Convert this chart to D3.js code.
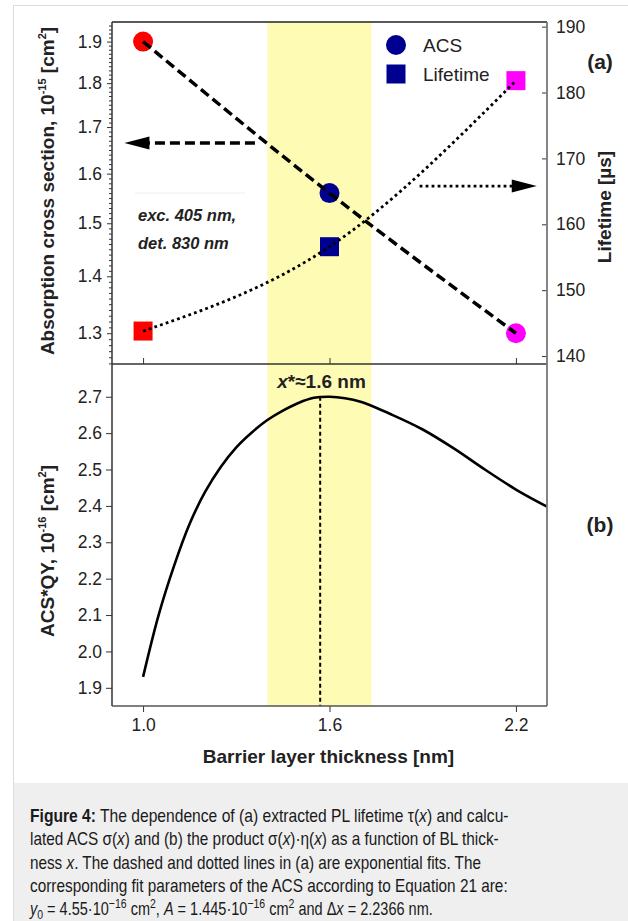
<!DOCTYPE html>
<html>
<head>
<meta charset="utf-8">
<script src="https://cdn.jsdelivr.net/npm/d3@7"></script>
<style>
  html, body { margin: 0; padding: 0; background: #fff; }
  svg { display: block; font-family: "Liberation Sans", Arial, sans-serif; }
  .tick text { font-size: 17.5px; fill: #222; }
  .tick line { stroke: #333; }
</style>
</head>
<body>
<div id="root"></div>
<script>
// panel (a): measured points
var thickness = [1.0, 1.6, 2.2];
var acs = [1.90, 1.56, 1.30];
var lifetime = [143.8, 156.6, 181.8];
var pointColors = ["#ff0000", "#000090", "#ff00ff"];

// panel (b): ACS*QY curve
var qyX = [1.0, 1.05, 1.1, 1.15, 1.2, 1.25, 1.3, 1.35, 1.4, 1.45, 1.5, 1.55, 1.6, 1.65, 1.7, 1.8, 1.9, 2.0, 2.1, 2.2, 2.3];
var qyVal = [1.93, 2.10, 2.236, 2.351, 2.439, 2.507, 2.561, 2.602, 2.636, 2.662, 2.683, 2.697, 2.700, 2.696, 2.686, 2.651, 2.610, 2.558, 2.500, 2.445, 2.398];
var peakX = 1.57, peakVal = 2.70;

// highlighted thickness range
var band = [1.4, 1.735];

// tick labels
var xTicks = [1.0, 1.6, 2.2];
var acsTicks = [1.3, 1.4, 1.5, 1.6, 1.7, 1.8, 1.9];
var lifeTicks = [140, 150, 160, 170, 180, 190];
var qyTicks = [1.9, 2.0, 2.1, 2.2, 2.3, 2.4, 2.5, 2.6, 2.7];

// arrows: [from x, to x, level]
var acsArrow = [1.36, 0.94, 1.665];
var lifeArrow = [1.89, 2.267, 165.8];

var W = 628, H = 921;
var pLeft = 112, pRight = 547, pTop = 22, pMid = 364, pBottom = 706;

var svg = d3.select("#root").append("svg")
    .attr("width", W)
    .attr("height", H);

// outer frame and caption box
svg.append("rect").attr("x", 13.5).attr("y", 5.5).attr("width", W).attr("height", H)
    .attr("fill", "#fff").attr("stroke", "#dcdcdc");
svg.append("rect").attr("x", 14).attr("y", 783).attr("width", W).attr("height", H - 783)
    .attr("fill", "#efefef");

var x = d3.scaleLinear().domain([0.9, 2.3]).range([pLeft, pRight]);
var yAcs = d3.scaleLog().domain([1.249, 1.949]).range([pMid, pTop]);
var yLife = d3.scaleLinear().domain([138.8, 190.7]).range([pMid, pTop]);
var yQ = d3.scaleLinear().domain([1.85, 2.79]).range([pBottom, pMid]);

// yellow band across both panels
svg.append("rect")
    .attr("x", x(band[0])).attr("y", pTop)
    .attr("width", x(band[1]) - x(band[0])).attr("height", pBottom - pTop)
    .attr("fill", "#fefbb4");

// faint box line behind the note
svg.append("line").attr("x1", 135).attr("x2", 245).attr("y1", 193).attr("y2", 193)
    .attr("stroke", "#eeeeee");

// ---- panel (a) ----
var fmt = d3.format(".1f");

// minor ticks of the log axis
var minor = d3.range(125, 195).map(function (d) { return d / 100; })
    .filter(function (d) { return acsTicks.indexOf(d) < 0 && d >= 1.25 && d <= 1.949; });
svg.append("g").attr("transform", "translate(" + pLeft + ",0)")
    .call(d3.axisLeft(yAcs).tickValues(minor).tickSize(3).tickFormat(""))
    .call(function (g) { g.select(".domain").remove(); });

svg.append("g").attr("transform", "translate(" + pLeft + ",0)")
    .call(d3.axisLeft(yAcs).tickValues(acsTicks).tickFormat(fmt).tickSize(5).tickPadding(5).tickSizeOuter(0))
    .call(function (g) { g.select(".domain").remove(); });

svg.append("g").attr("transform", "translate(" + pRight + ",0)")
    .call(d3.axisRight(yLife).tickValues(lifeTicks).tickSize(-5).tickPadding(9).tickSizeOuter(0))
    .call(function (g) { g.select(".domain").remove(); });

svg.append("g").attr("transform", "translate(0," + pMid + ")")
    .call(d3.axisTop(x).tickValues(xTicks).tickSize(6).tickFormat(""))
    .call(function (g) { g.select(".domain").remove(); });

// markers
svg.selectAll(".acs").data(thickness).enter().append("circle")
    .attr("cx", function (d) { return x(d); })
    .attr("cy", function (d, i) { return yAcs(acs[i]); })
    .attr("r", 10)
    .attr("fill", function (d, i) { return pointColors[i]; });

svg.selectAll(".life").data(thickness).enter().append("rect")
    .attr("x", function (d) { return x(d) - 9.5; })
    .attr("y", function (d, i) { return yLife(lifetime[i]) - 9.5; })
    .attr("width", 19).attr("height", 19)
    .attr("fill", function (d, i) { return pointColors[i]; });

// fits
var acsLine = d3.line().curve(d3.curveNatural)
    .x(function (d) { return x(d); })
    .y(function (d, i) { return yAcs(acs[i]); });
svg.append("path").attr("d", acsLine(thickness))
    .attr("fill", "none").attr("stroke", "#000").attr("stroke-width", 3.5)
    .attr("stroke-dasharray", "10,5");

var lifeLine = d3.line().curve(d3.curveNatural)
    .x(function (d) { return x(d); })
    .y(function (d, i) { return yLife(lifetime[i]); });
svg.append("path").attr("d", lifeLine(thickness))
    .attr("fill", "none").attr("stroke", "#000").attr("stroke-width", 2.8)
    .attr("stroke-dasharray", "2.8,3.2");

// arrows
function arrowHead(tipX, y, dir) {
    var len = 25, half = 6.5;
    return "M" + tipX + "," + y + "L" + (tipX - dir * len) + "," + (y - half) +
        "L" + (tipX - dir * len) + "," + (y + half) + "Z";
}
var ay = yAcs(acsArrow[2]);
svg.append("line").attr("x1", x(acsArrow[0])).attr("x2", x(acsArrow[1]) + 20)
    .attr("y1", ay).attr("y2", ay)
    .attr("stroke", "#000").attr("stroke-width", 3.5).attr("stroke-dasharray", "10,5");
svg.append("path").attr("d", arrowHead(x(acsArrow[1]), ay, -1)).attr("fill", "#000");

var ly = yLife(lifeArrow[2]);
svg.append("line").attr("x1", x(lifeArrow[0])).attr("x2", x(lifeArrow[1]) - 20)
    .attr("y1", ly).attr("y2", ly)
    .attr("stroke", "#000").attr("stroke-width", 2.8).attr("stroke-dasharray", "2.8,3.2");
svg.append("path").attr("d", arrowHead(x(lifeArrow[1]), ly, 1)).attr("fill", "#000");

// note
var note = svg.append("g").attr("font-size", 16.5).attr("font-weight", "bold")
    .attr("font-style", "italic").attr("fill", "#222");
note.append("text").attr("x", 138).attr("y", 221).text("exc. 405 nm,");
note.append("text").attr("x", 138).attr("y", 249).text("det. 830 nm");

// legend
svg.append("circle").attr("cx", 396).attr("cy", 45).attr("r", 10).attr("fill", pointColors[1]);
svg.append("rect").attr("x", 386.5).attr("y", 64.5).attr("width", 19).attr("height", 19).attr("fill", pointColors[1]);
svg.append("text").attr("x", 423).attr("y", 45).attr("dy", "0.35em").attr("font-size", 19)
    .attr("fill", "#222").text("ACS");
svg.append("text").attr("x", 423).attr("y", 74).attr("dy", "0.35em").attr("font-size", 19)
    .attr("fill", "#222").text("Lifetime");

// ---- panel (b) ----
svg.append("g").attr("transform", "translate(" + pLeft + ",0)")
    .call(d3.axisLeft(yQ).tickValues(qyTicks).tickFormat(fmt).tickSize(6).tickPadding(4).tickSizeOuter(0))
    .call(function (g) { g.select(".domain").remove(); });

svg.append("g").attr("transform", "translate(0," + pBottom + ")")
    .call(d3.axisBottom(x).tickValues(xTicks).tickFormat(fmt).tickSize(6).tickPadding(7).tickSizeOuter(0))
    .call(function (g) { g.select(".domain").remove(); });

var qyLine = d3.line().curve(d3.curveCatmullRom)
    .x(function (d) { return x(d); })
    .y(function (d, i) { return yQ(qyVal[i]); });
svg.append("path").attr("d", qyLine(qyX))
    .attr("fill", "none").attr("stroke", "#000").attr("stroke-width", 2.6);

svg.append("line").attr("x1", x(peakX)).attr("x2", x(peakX))
    .attr("y1", yQ(peakVal)).attr("y2", pBottom)
    .attr("stroke", "#000").attr("stroke-width", 2).attr("stroke-dasharray", "4,3");

var peakLabel = svg.append("text").attr("x", 321.5).attr("y", 388)
    .attr("text-anchor", "middle").attr("font-size", 19).attr("font-weight", "bold").attr("fill", "#222");
peakLabel.append("tspan").attr("font-style", "italic").text("x");
peakLabel.append("tspan").text("*≈1.6 nm");

// frames
svg.append("line").attr("x1", pLeft).attr("x2", pRight).attr("y1", pTop).attr("y2", pTop)
    .attr("stroke", "#222").attr("stroke-width", 1.5);
svg.append("line").attr("x1", pLeft).attr("x2", pLeft).attr("y1", pTop).attr("y2", pBottom)
    .attr("stroke", "#333").attr("stroke-width", 1.5);
svg.append("line").attr("x1", pLeft).attr("x2", pRight).attr("y1", pMid).attr("y2", pMid)
    .attr("stroke", "#333").attr("stroke-width", 1.5);
svg.append("line").attr("x1", pRight).attr("x2", pRight).attr("y1", pTop).attr("y2", pBottom)
    .attr("stroke", "#777").attr("stroke-width", 1.8);
svg.append("line").attr("x1", pLeft).attr("x2", pRight).attr("y1", pBottom).attr("y2", pBottom)
    .attr("stroke", "#555").attr("stroke-width", 1.5);

// axis titles
var t1 = svg.append("text").attr("transform", "translate(54,191) rotate(-90)")
    .attr("text-anchor", "middle").attr("font-size", 19).attr("font-weight", "bold").attr("fill", "#222");
t1.append("tspan").text("Absorption cross section, 10");
t1.append("tspan").attr("font-size", 11).attr("dy", -8).text("-15");
t1.append("tspan").attr("dy", 8).text(" [cm");
t1.append("tspan").attr("font-size", 11).attr("dy", -8).text("2");
t1.append("tspan").attr("dy", 8).text("]");

var t2 = svg.append("text").attr("transform", "translate(54,551) rotate(-90)")
    .attr("text-anchor", "middle").attr("font-size", 19).attr("font-weight", "bold").attr("fill", "#222");
t2.append("tspan").text("ACS*QY, 10");
t2.append("tspan").attr("font-size", 11).attr("dy", -8).text("-16");
t2.append("tspan").attr("dy", 8).text(" [cm");
t2.append("tspan").attr("font-size", 11).attr("dy", -8).text("2");
t2.append("tspan").attr("dy", 8).text("]");

svg.append("text").attr("transform", "translate(611,207) rotate(-90)")
    .attr("text-anchor", "middle").attr("font-size", 19).attr("font-weight", "bold").attr("fill", "#222")
    .text("Lifetime [µs]");

svg.append("text").attr("x", 328.5).attr("y", 763).attr("text-anchor", "middle")
    .attr("font-size", 19).attr("font-weight", "bold").attr("fill", "#222")
    .text("Barrier layer thickness [nm]");

svg.append("text").attr("x", 600).attr("y", 69).attr("text-anchor", "middle")
    .attr("font-size", 21).attr("font-weight", "bold").attr("fill", "#222").text("(a)");
svg.append("text").attr("x", 600).attr("y", 532).attr("text-anchor", "middle")
    .attr("font-size", 21).attr("font-weight", "bold").attr("fill", "#222").text("(b)");

// ---- caption ----
// each line: list of [text, style] pieces; style b=bold, i=italic, sub, sup
var captionLines = [
    [["Figure 4:", "b"], [" The dependence of (a) extracted PL lifetime τ(", ""], ["x", "i"], [") and calcu-", ""]],
    [["lated ACS σ(", ""], ["x", "i"], [") and (b) the product σ(", ""], ["x", "i"], [")·η(", ""], ["x", "i"], [") as a function of BL thick-", ""]],
    [["ness ", ""], ["x", "i"], [". The dashed and dotted lines in (a) are exponential fits. The", ""]],
    [["corresponding fit parameters of the ACS according to Equation 21 are:", ""]],
    [["y", "i"], ["0", "sub"], [" = 4.55·10", ""], ["−16", "sup"], [" cm", ""], ["2", "sup"], [", ", ""], ["A", "i"],
     [" = 1.445·10", ""], ["−16", "sup"], [" cm", ""], ["2", "sup"], [" and Δ", ""], ["x", "i"], [" = 2.2366 nm.", ""]]
];
var captionWidths = [479, 469, 451, 478, 403];
var captionBase = [821.5, 845, 868.5, 892, 914.5];

captionLines.forEach(function (parts, li) {
    var t = svg.append("text").attr("font-size", 18).attr("fill", "#1a1a1a")
        .attr("font-family", "'Liberation Sans Narrow', 'Liberation Sans', Arial, sans-serif");
    var shift = 0;
    parts.forEach(function (p) {
        var s = t.append("tspan").text(p[0]);
        var want = p[1] === "sup" ? -7 : (p[1] === "sub" ? 4 : 0);
        if (want !== shift) { s.attr("dy", want - shift); shift = want; }
        if (p[1] === "b") s.attr("font-weight", "bold");
        if (p[1] === "i") s.attr("font-style", "italic");
        if (p[1] === "sup" || p[1] === "sub") s.attr("font-size", 13);
    });
    var len = t.node().getComputedTextLength();
    t.attr("transform", "translate(30," + captionBase[li] + ") scale(" + (captionWidths[li] / len) + ",1)");
});
</script>
</body>
</html>
